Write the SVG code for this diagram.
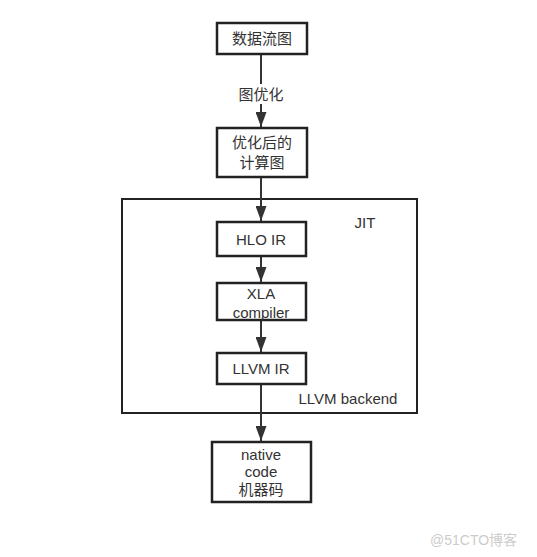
<svg xmlns="http://www.w3.org/2000/svg" width="537" height="557" viewBox="0 0 537 557">
<style>
.n{fill:#fff;stroke:#222;stroke-width:2.5}
.t{font-family:"Liberation Sans","Noto Sans CJK SC",sans-serif;font-size:15px;fill:#333;text-anchor:middle}
.e{stroke:#333;stroke-width:2;fill:none}
</style>
<defs>
<marker id="a" viewBox="0 0 15 11" refX="15" refY="5.5" markerWidth="15" markerHeight="11" markerUnits="userSpaceOnUse" orient="auto">
<path d="M0,0 L15,5.5 L0,11 z" fill="#333"/>
</marker>
</defs>
<rect width="537" height="557" fill="#fff"/>
<g id="jit">
<rect x="122" y="199" width="295" height="214" fill="none" stroke="#222" stroke-width="2"/>
<text class="t" x="365" y="228">JIT</text>
<text class="t" x="348" y="404">LLVM backend</text>
</g>
<g id="edges">
<line class="e" x1="261" y1="55" x2="261" y2="84"/>
<line class="e" x1="261" y1="104" x2="261" y2="127" marker-end="url(#a)"/>
<line class="e" x1="261" y1="178" x2="261" y2="221" marker-end="url(#a)"/>
<line class="e" x1="261" y1="257" x2="261" y2="282" marker-end="url(#a)"/>
<line class="e" x1="261" y1="321" x2="261" y2="352" marker-end="url(#a)"/>
<line class="e" x1="261" y1="385" x2="261" y2="441" marker-end="url(#a)"/>
<text class="t" x="261" y="100">图优化</text>
</g>
<g id="n1">
<rect class="n" x="217" y="23" width="90" height="31"/>
<text class="t" x="262" y="44">数据流图</text>
</g>
<g id="n2">
<rect class="n" x="217" y="128" width="90" height="49"/>
<text class="t" x="262" y="148">优化后的</text>
<text class="t" x="262" y="168">计算图</text>
</g>
<g id="n3">
<rect class="n" x="217" y="222" width="89" height="34"/>
<text class="t" x="261" y="245">HLO IR</text>
</g>
<g id="n4">
<rect class="n" x="217" y="283" width="89" height="37"/>
<text class="t" x="261" y="299">XLA</text>
<text class="t" x="261" y="318">compiler</text>
</g>
<g id="n5">
<rect class="n" x="217" y="353" width="89" height="31"/>
<text class="t" x="261" y="374">LLVM IR</text>
</g>
<g id="n6">
<rect class="n" x="212" y="442" width="99" height="60"/>
<text class="t" x="261" y="460">native</text>
<text class="t" x="261" y="477">code</text>
<text class="t" x="261" y="495">机器码</text>
</g>
<text x="430" y="545" font-family="Liberation Sans,'Noto Sans CJK SC',sans-serif" font-size="14" fill="#ccc">@51CTO博客</text>
</svg>
